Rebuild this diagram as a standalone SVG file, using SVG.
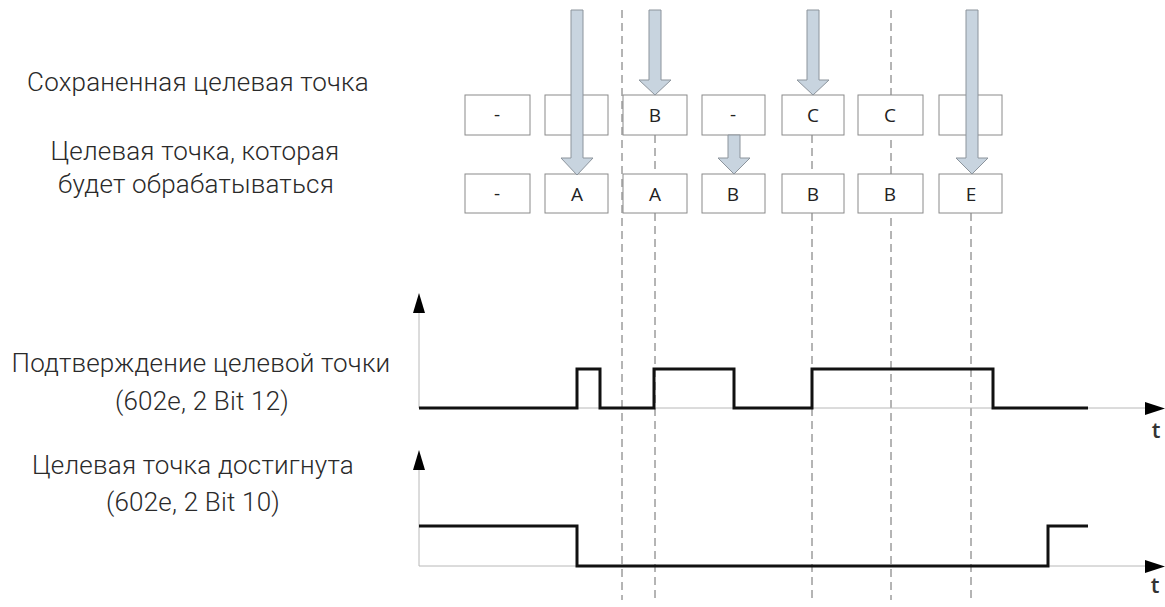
<svg xmlns="http://www.w3.org/2000/svg" width="1165" height="607" viewBox="0 0 1165 607">
<style>
.lbl{font-family:Roboto,"Noto Sans","DejaVu Sans",sans-serif;font-weight:300;font-size:26px;letter-spacing:0.2px;fill:#2a2a2a;text-anchor:middle}
.box{fill:#fff;stroke:#8a8a8a;stroke-width:1}
.bt{font-family:"Open Sans","Liberation Sans",sans-serif;font-size:19px;fill:#222;text-anchor:middle}
.dash{stroke:#6a6a6a;stroke-width:1;stroke-dasharray:8 5;fill:none}
.arr{fill:#c8d4df;stroke:#8c949c;stroke-width:1}
.axis{stroke:#b8b8b8;stroke-width:1;fill:none}
.head{fill:#000}
.sig{stroke:#111;stroke-width:3;fill:none;stroke-linejoin:miter}
.t{font-family:"Open Sans","Liberation Sans",sans-serif;font-size:22px;font-weight:600;fill:#333;text-anchor:middle}
</style>
<rect width="1165" height="607" fill="#fff"/>
<g id="labels">
<text class="lbl" x="198" y="91">Сохраненная целевая точка</text>
<text class="lbl" x="195" y="160">Целевая точка, которая</text>
<text class="lbl" x="196" y="193">будет обрабатываться</text>
<text class="lbl" x="201" y="372">Подтверждение целевой точки</text>
<text class="lbl" x="202" y="410">(602e, 2 Bit 12)</text>
<text class="lbl" x="193" y="474">Целевая точка достигнута</text>
<text class="lbl" x="193" y="511">(602e, 2 Bit 10)</text>
</g>
<g id="connectors">
<line class="dash" x1="622" y1="10" x2="622" y2="600"/>
<line class="dash" x1="891" y1="10" x2="891" y2="600"/>
<line class="dash" x1="655" y1="135" x2="655" y2="600"/>
<line class="dash" x1="812" y1="135" x2="812" y2="600"/>
<line class="dash" x1="971" y1="213" x2="971" y2="600"/>
</g>
<g id="stored">
<rect class="box" x="465" y="95" width="65" height="40"/><text class="bt" x="497" y="121">-</text>
<rect class="box" x="545" y="95" width="63" height="40"/>
<rect class="box" x="623" y="95" width="64" height="40"/><text class="bt" x="655" y="122">B</text>
<rect class="box" x="702" y="95" width="63" height="40"/><text class="bt" x="733" y="121">-</text>
<rect class="box" x="782" y="95" width="62" height="40"/><text class="bt" x="813" y="122">C</text>
<rect class="box" x="858" y="95" width="65" height="40"/><text class="bt" x="890" y="122">C</text>
<rect class="box" x="939" y="95" width="63" height="40"/>
</g>
<g id="processed">
<rect class="box" x="465" y="174" width="65" height="39"/><text class="bt" x="497" y="200">-</text>
<rect class="box" x="545" y="174" width="63" height="39"/><text class="bt" x="577" y="201">A</text>
<rect class="box" x="623" y="174" width="64" height="39"/><text class="bt" x="655" y="201">A</text>
<rect class="box" x="702" y="174" width="63" height="39"/><text class="bt" x="733" y="201">B</text>
<rect class="box" x="782" y="174" width="62" height="39"/><text class="bt" x="813" y="201">B</text>
<rect class="box" x="858" y="174" width="65" height="39"/><text class="bt" x="890" y="201">B</text>
<rect class="box" x="939" y="174" width="63" height="39"/><text class="bt" x="971" y="201">E</text>
</g>
<g id="arrows">
<path class="arr" d="M571,10 H583 V158 H593 L577,175 L561,158 H571 Z"/>
<path class="arr" d="M649,10 H661 V80 H671 L655,95 L639,80 H649 Z"/>
<path class="arr" d="M807,10 H819 V80 H829 L813,95 L797,80 H807 Z"/>
<path class="arr" d="M966,10 H978 V158 H988 L972,174 L956,158 H966 Z"/>
<path class="arr" d="M728,135 H740 V158 H750 L734,174 L718,158 H728 Z"/>
</g>
<g id="chart1">
<line class="axis" x1="419" y1="408" x2="419" y2="312"/>
<polygon class="head" points="413,313 425,313 419,293"/>
<line class="axis" x1="419" y1="408" x2="1146" y2="408"/>
<polygon class="head" points="1145,402 1145,415 1165,408.5"/>
<path class="sig" d="M419,408 H577 V369 H600 V408 H654 V369 H734 V408 H812 V369 H993 V408 H1088"/>
<text class="t" x="1156" y="438">t</text>
</g>
<g id="chart2">
<line class="axis" x1="419" y1="566" x2="419" y2="469"/>
<polygon class="head" points="413,470 425,470 419,450"/>
<line class="axis" x1="419" y1="566" x2="1146" y2="566"/>
<polygon class="head" points="1145,560 1145,573 1165,566.5"/>
<path class="sig" d="M419,526 H577 V566 H1048 V526 H1088"/>
<text class="t" x="1155" y="593">t</text>
</g>
</svg>
